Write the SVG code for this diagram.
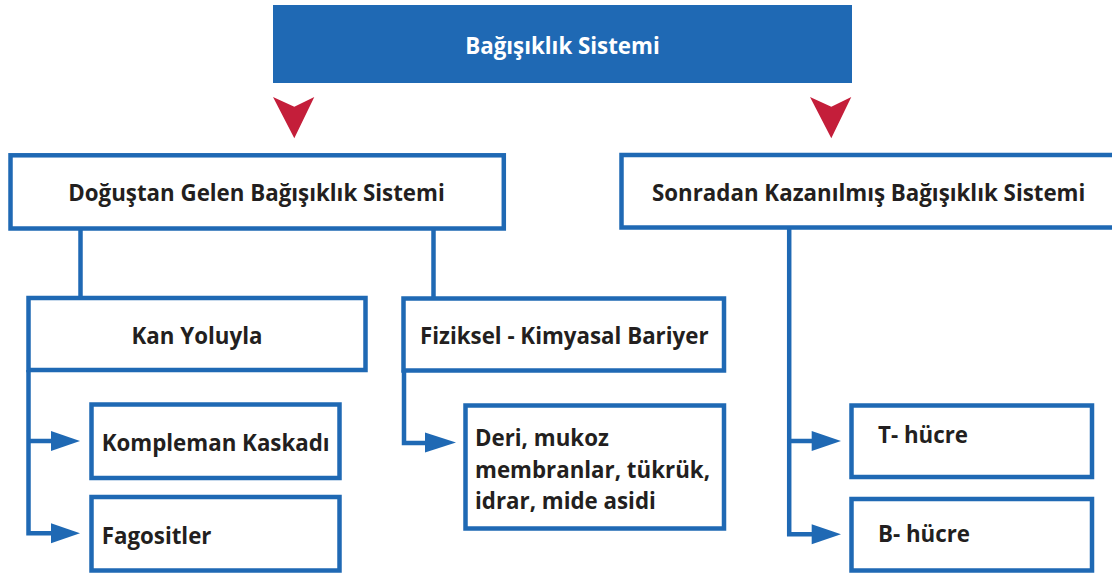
<svg xmlns="http://www.w3.org/2000/svg" width="1112" height="577" viewBox="0 0 1112 577">
<style>
.box{fill:#fff;stroke:#1f69b4;stroke-width:4.5}
.t{font-family:"Open Sans","Noto Sans",sans-serif;font-weight:bold;font-size:22.3px;fill:#231f20}
.tc{text-anchor:middle}
.ln{fill:none;stroke:#1f69b4;stroke-width:4.5}
.ah{fill:#1f69b4}
.red{fill:#c41e3a}
</style>
<rect width="1112" height="577" fill="#fff"/>
<g id="root">
<rect x="273" y="5" width="579" height="78" fill="#1f69b4"/>
<text class="t tc" x="562.5" y="54" style="fill:#fff">Bağışıklık Sistemi</text>
</g>
<g id="innate">
<rect class="box" x="10.5" y="155.3" width="493.3" height="73.2"/>
<text class="t tc" x="256.5" y="201">Doğuştan Gelen Bağışıklık Sistemi</text>
</g>
<g id="acquired">
<rect class="box" x="621.5" y="155" width="500" height="72.5"/>
<text class="t" x="652" y="201">Sonradan Kazanılmış Bağışıklık Sistemi</text>
</g>
<g id="kan">
<rect class="box" x="28.5" y="298" width="337" height="72"/>
<text class="t tc" x="197" y="344">Kan Yoluyla</text>
</g>
<g id="fiziksel">
<rect class="box" x="403.5" y="298.5" width="320.5" height="72"/>
<text class="t" x="420" y="344">Fiziksel - Kimyasal Bariyer</text>
</g>
<g id="kompleman">
<rect class="box" x="91.5" y="404.5" width="248" height="73.5"/>
<text class="t" x="101.7" y="450.5">Kompleman Kaskadı</text>
</g>
<g id="fagositler">
<rect class="box" x="91.5" y="497" width="248" height="73.5"/>
<text class="t" x="101.7" y="543.5">Fagositler</text>
</g>
<g id="deri">
<rect class="box" x="465.5" y="405.5" width="258.5" height="123"/>
<text class="t" x="475" y="446">Deri, mukoz</text>
<text class="t" x="475" y="478">membranlar, tükrük,</text>
<text class="t" x="475" y="509">idrar, mide asidi</text>
</g>
<g id="thucre">
<rect class="box" x="851.5" y="405.5" width="240.5" height="71.5"/>
<text class="t" x="878" y="443">T- hücre</text>
</g>
<g id="bhucre">
<rect class="box" x="851.5" y="499" width="240.5" height="71.5"/>
<text class="t" x="878" y="541.5">B- hücre</text>
</g>
<g id="connectors">
<polygon class="red" points="273,97 294.3,106.7 314.3,97 294.3,138.3"/>
<polygon class="red" points="810,97 831.3,106.7 851.3,97 831.3,138.3"/>
<path class="ln" d="M80.5,230 V298"/>
<path class="ln" d="M433.5,230 V298"/>
<path class="ln" d="M28.5,370 V533.3 H55 M28.5,441 H55"/>
<polygon class="ah" points="51,431 80,441 51,451"/>
<polygon class="ah" points="51,523.3 80,533.3 51,543.3"/>
<path class="ln" d="M404,370 V443 H428"/>
<polygon class="ah" points="425,432.5 456,442.5 425,452.5"/>
<path class="ln" d="M789.2,229 V534.3 H815 M789.2,441 H815"/>
<polygon class="ah" points="811.7,431 841,441 811.7,451"/>
<polygon class="ah" points="811.7,524.3 841,534.3 811.7,544.3"/>
</g>
</svg>
